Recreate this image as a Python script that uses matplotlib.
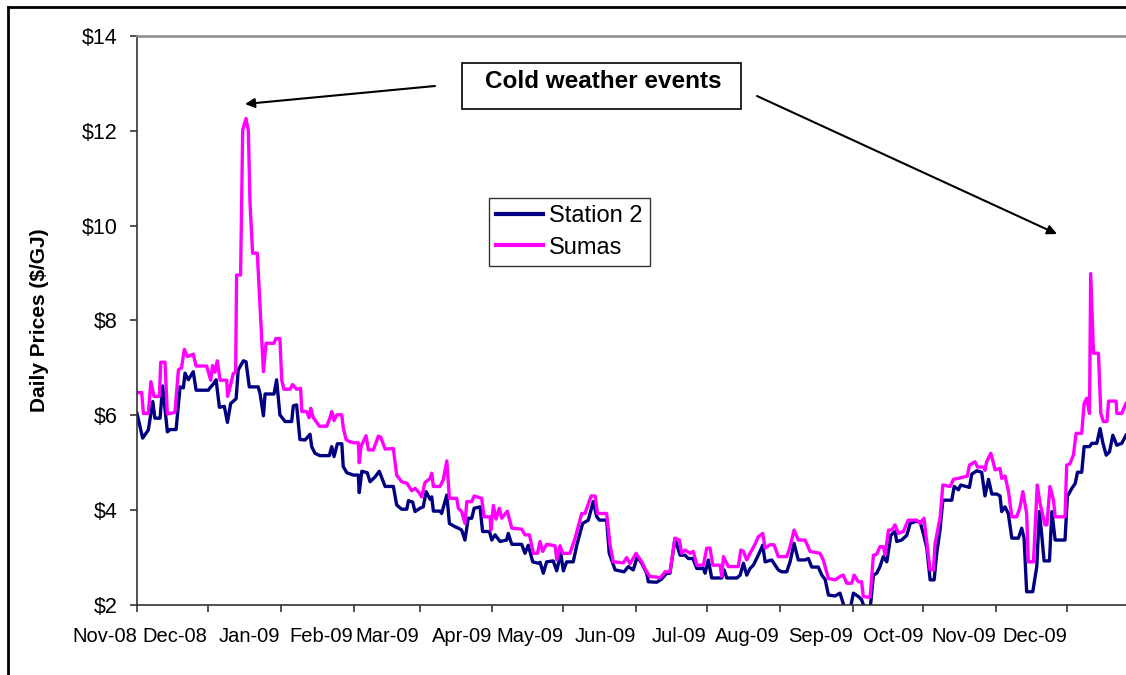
import pandas as pd
from matplotlib import pyplot as plt
from matplotlib.patches import Rectangle, FancyArrowPatch
from matplotlib.lines import Line2D

plt.rcParams['font.family'] = ['Liberation Sans', 'DejaVu Sans']

start = pd.Timestamp('2008-11-01')

stn2_days = [0.0, 2.4, 4.8, 6.7, 7.6, 9.8, 10.9, 12.9, 14.0, 16.6,
             18.3, 19.7, 20.4, 21.8, 23.9, 25.1, 30.3, 31.0, 32.4, 33.6,
             35.0, 37.1, 38.4, 39.8, 42.1, 43.0, 45.2, 46.3, 47.7, 51.5,
             52.3, 53.7, 54.4, 58.2, 59.3, 60.7, 62.9, 65.7, 66.4, 67.8,
             69.2, 71.4, 73.5, 74.2, 75.6, 77.7, 81.7, 82.7, 83.7, 85.1,
             87.0, 87.6, 89.1, 91.9, 94.0, 94.4, 95.5, 97.8, 99.0, 101.1,
             102.9, 105.4, 108.9, 110.3, 112.4, 114.6, 115.3, 117.1, 118.1, 120.2,
             121.6, 122.8, 124.5,
             125.2, 125.9, 128.7, 129.4, 131.6, 132.7, 135.1, 136.5, 137.9, 139.3,
             140.7, 142.2, 143.2, 145.7, 146.8, 149.7, 150.7, 152.1, 154.2, 157.0,
             157.7, 159.2, 163.4, 164.8, 166.2, 168.1, 170.5, 171.2, 172.6, 174.0,
             176.8, 178.3, 180.0, 181.1, 182.5, 185.3, 186.8, 189.3, 191.7, 193.8,
             195.3, 196.4, 199.5, 200.6, 203.1, 206.9, 208.7, 210.8, 212.5, 214.4,
             216.5, 217.2, 220.8, 222.9, 225.0, 226.4,
             228.5, 230.7, 232.8, 234.2, 236.1, 237.8, 240.6, 241.3, 242.7, 244.1,
             248.4, 249.4, 250.5, 254.8, 256.2, 257.6, 259.0, 260.4, 261.8, 263.9,
             265.8, 266.8, 269.6, 272.4, 273.9, 276.0, 277.4, 279.1, 280.9, 283.8,
             285.2, 286.6, 289.4, 290.9, 292.3, 293.7, 296.5, 298.6, 300.8, 302.9,
             304.3, 306.4, 307.8, 309.3, 311.4, 312.8, 314.2, 315.6, 317.0, 318.5,
             320.2, 322.0, 322.7, 324.8, 327.0, 328.4, 330.5, 332.6, 334.0, 335.5,
             336.9, 338.6, 339.7, 341.1,
             342.3, 346.1, 347.1, 348.9, 349.9, 353.6, 354.6, 356.7, 358.8, 360.2,
             361.7, 363.1, 365.2, 366.6, 367.3, 368.7, 370.1, 371.6, 374.4, 375.8,
             376.8, 377.9, 380.5, 382.2, 383.3, 384.3, 385.3, 387.6, 388.6, 390.0,
             394.2, 395.2, 397.1, 398.5, 399.5, 401.3, 402.3, 404.6, 405.6, 407.7,
             409.1, 410.3, 411.7, 413.1, 414.5, 416.2, 418.3, 420.1]
stn2_price = [6.04, 5.52, 5.69, 6.29, 5.94, 5.94, 6.62, 5.65, 5.70, 5.70,
              6.60, 6.58, 6.89, 6.75, 6.92, 6.53, 6.53, 6.58, 6.66, 6.75,
              6.17, 6.19, 5.85, 6.25, 6.35, 6.96, 7.15, 7.13, 6.60, 6.60,
              6.45, 5.99, 6.45, 6.45, 6.75, 6.01, 5.87, 5.87, 6.20, 6.22,
              5.49, 5.48, 5.60, 5.34, 5.20, 5.15, 5.15, 5.34, 5.13, 5.40,
              5.40, 4.92, 4.79, 4.74, 4.74, 4.37, 4.82, 4.79, 4.60, 4.70,
              4.82, 4.50, 4.50, 4.11, 4.02, 4.02, 4.20, 4.17, 3.97, 4.04,
              4.07, 4.39, 4.23,
              4.28, 3.98, 3.98, 3.93, 4.32, 3.72, 3.65, 3.62, 3.58, 3.37,
              3.83, 3.83, 4.04, 4.07, 3.55, 3.55, 3.37, 3.48, 3.34, 3.37,
              3.51, 3.28, 3.28, 3.09, 3.26, 2.91, 2.88, 2.90, 2.67, 2.91,
              2.93, 2.72, 3.09, 2.72, 2.91, 2.91, 3.26, 3.72, 3.79, 4.18,
              3.86, 3.79, 3.79, 3.09, 2.74, 2.70, 2.81, 2.74, 3.02, 2.88,
              2.67, 2.49, 2.48, 2.55, 2.67, 2.67,
              3.40, 3.05, 3.05, 2.98, 2.98, 2.77, 2.77, 2.67, 2.95, 2.57,
              2.57, 2.74, 2.57, 2.57, 2.63, 2.88, 2.63, 2.77, 2.84, 3.05,
              3.26, 2.91, 2.95, 2.74, 2.70, 2.70, 2.91, 3.30, 2.95, 2.95,
              2.98, 2.80, 2.80, 2.63, 2.54, 2.21, 2.19, 2.25, 1.90, 1.90,
              2.25, 2.18, 2.11, 1.90, 1.90, 2.63, 2.67, 2.81, 3.02, 2.91,
              3.47, 3.55, 3.34, 3.37, 3.47, 3.72, 3.76, 3.76, 3.51, 3.20,
              2.53, 2.53, 3.09, 3.58,
              4.21, 4.21, 4.50, 4.43, 4.53, 4.48, 4.76, 4.83, 4.80, 4.30,
              4.65, 4.34, 4.34, 4.30, 3.97, 4.07, 3.93, 3.41, 3.41, 3.62,
              3.41, 2.28, 2.28, 2.81, 3.97, 3.48, 2.93, 2.93, 3.97, 3.37,
              3.37, 4.29, 4.46, 4.56, 4.80, 4.80, 5.34, 5.34, 5.41, 5.41,
              5.72, 5.41, 5.16, 5.23, 5.58, 5.37, 5.41, 5.58]

sumas_days = [0.0, 2.0, 2.7, 4.8, 5.9, 7.2, 9.5, 10.1, 11.9, 12.9,
              16.1, 17.6, 18.9, 20.1, 21.4, 23.9, 25.1, 29.6, 31.3, 32.1,
              33.1, 34.1, 35.3, 38.1, 38.5, 39.8, 40.9, 41.9, 42.3, 44.0,
              44.9, 46.3, 47.3, 48.0, 49.1, 51.1, 53.7, 54.8, 58.2,
              59.0, 60.7, 61.5, 62.4, 65.0, 66.1, 67.8, 69.5, 70.0, 72.1,
              73.1, 73.8, 74.9, 77.5, 80.6, 82.0, 82.7, 83.7, 84.8, 87.0,
              87.6, 88.8, 90.5, 92.6, 94.0, 94.4, 95.2, 97.3, 98.3, 100.4,
              102.5, 103.5, 105.4, 108.9, 110.3, 112.4, 114.6, 116.7, 118.1, 119.5,
              120.9, 122.3, 124.5,
              125.2, 125.9, 128.7, 130.1, 131.6, 132.7, 135.8, 136.5, 137.9, 139.3,
              140.1, 142.2, 143.2, 146.4, 147.4, 150.0, 150.3, 151.4, 152.5, 153.9,
              154.9, 157.3, 159.2, 163.4, 164.8, 166.7, 168.4, 170.1, 171.2, 172.3,
              174.0, 177.6, 178.3, 179.7, 180.8, 183.9, 186.1, 188.9, 190.3, 192.9,
              194.6, 195.6, 199.5, 200.9, 202.3, 206.6, 208.0, 209.4, 212.0, 214.4,
              216.5, 217.9, 220.8, 222.2, 224.3, 226.4,
              228.5, 230.4, 231.4, 232.8, 234.9, 236.3, 237.8, 240.6, 242.0, 243.4,
              244.6, 247.7, 248.4, 249.1, 250.2, 251.2, 255.4, 256.5, 257.6, 259.0,
              260.4, 262.5, 263.9, 265.8, 266.8, 268.9, 270.6, 272.4, 276.0, 277.4,
              279.1, 280.9, 283.8, 285.9, 290.1, 291.5, 293.7, 296.5, 298.6, 300.0,
              301.5, 303.6, 304.6, 306.4, 307.8, 308.5, 311.4, 312.8, 314.2, 315.6,
              317.0, 317.8, 319.2, 320.6, 322.0, 323.4, 325.5, 327.6, 331.2, 332.6,
              334.3, 335.7, 336.9, 338.3, 339.0, 341.1,
              342.3, 345.4, 346.8, 349.6, 352.7, 353.6, 356.0, 357.0, 359.5, 360.2,
              360.9, 362.7, 364.5, 366.6, 367.3, 368.7, 370.1, 371.6, 373.7, 375.1,
              376.3, 377.9, 378.6, 380.8, 382.4, 383.6, 385.7, 386.5, 387.8, 389.3,
              390.0, 394.2, 394.9, 396.3, 397.8, 398.9, 401.3, 402.3, 403.4, 404.6,
              405.1, 406.3, 408.4, 409.4, 410.5, 412.0, 412.7, 415.9, 416.2, 418.3,
              420.1]
sumas_price = [6.48, 6.48, 6.04, 6.04, 6.71, 6.40, 6.40, 7.12, 7.12, 6.03,
               6.06, 6.96, 7.00, 7.39, 7.24, 7.29, 7.04, 7.04, 6.74, 7.05,
               6.91, 7.15, 6.74, 6.74, 6.40, 6.65, 6.88, 6.91, 8.96, 8.96,
               12.02, 12.26, 12.00, 10.48, 9.42, 9.42, 6.92, 7.52, 7.52,
               7.62, 7.62, 6.74, 6.55, 6.55, 6.65, 6.55, 6.57, 6.08, 6.08,
               5.95, 6.15, 5.95, 5.77, 5.77, 5.95, 6.08, 5.89, 6.01, 6.01,
               5.74, 5.49, 5.44, 5.42, 5.42, 5.00, 5.35, 5.57, 5.27, 5.27,
               5.56, 5.54, 5.29, 5.30, 4.74, 4.60, 4.57, 4.41, 4.46, 4.39,
               4.28, 4.58, 4.67,
               4.78, 4.50, 4.50, 4.64, 5.04, 4.25, 4.25, 4.04, 3.97, 3.72,
               4.18, 4.18, 4.30, 4.25, 3.86, 3.86, 3.58, 4.10, 3.81, 4.04,
               3.83, 3.98, 3.62, 3.60, 3.48, 3.48, 3.09, 3.09, 3.34, 3.13,
               3.28, 3.25, 2.95, 3.25, 3.09, 3.09, 3.41, 3.93, 3.93, 4.30,
               4.30, 3.93, 3.93, 3.28, 2.91, 2.89, 3.00, 2.87, 3.09, 2.91,
               2.70, 2.60, 2.59, 2.57, 2.70, 2.70,
               3.41, 3.37, 3.09, 3.16, 3.09, 3.13, 2.84, 2.84, 3.20, 3.20,
               2.84, 2.84, 2.60, 3.02, 2.91, 2.81, 2.81, 3.16, 3.13, 2.95,
               3.09, 3.28, 3.44, 3.51, 3.20, 3.27, 3.27, 3.02, 3.02, 3.23,
               3.58, 3.37, 3.37, 3.13, 3.09, 2.95, 2.56, 2.53, 2.60, 2.63,
               2.46, 2.46, 2.63, 2.49, 2.49, 2.18, 2.16, 3.05, 3.07, 3.23,
               3.23, 3.06, 3.58, 3.58, 3.69, 3.51, 3.55, 3.79, 3.79, 3.72,
               3.83, 3.23, 2.74, 2.74, 3.30, 3.83,
               4.53, 4.50, 4.65, 4.68, 4.72, 4.95, 5.02, 4.91, 4.91, 4.84,
               5.02, 5.20, 4.85, 4.88, 4.67, 4.72, 4.42, 3.86, 3.86, 4.07,
               4.39, 3.93, 2.91, 2.91, 4.53, 4.14, 3.69, 3.69, 4.50, 4.21,
               3.86, 3.86, 4.95, 4.98, 5.17, 5.62, 5.62, 6.25, 6.36, 6.04,
               8.99, 7.31, 7.31, 6.04, 5.87, 5.87, 6.30, 6.30, 6.04, 6.04,
               6.25]

month_starts = pd.date_range('2008-11-01', '2009-12-01', freq='MS')
month_labels = [d.strftime('%b-%y') for d in month_starts]
price_ticks = [2, 4, 6, 8, 10, 12, 14]
price_labels = ['$%d' % p for p in price_ticks]

W, H = 1126, 675
fig = plt.figure(figsize=(W / 100, H / 100), dpi=100)
ax = fig.add_axes([137 / W, 1 - 605 / H, 1 - 137 / W, 569 / H])

stn2_x = start + pd.to_timedelta(stn2_days, unit='D')
sumas_x = start + pd.to_timedelta(sumas_days, unit='D')
ax.plot(stn2_x, stn2_price, color='#000080', lw=2.4, label='Station 2')
ax.plot(sumas_x, sumas_price, color='#FF00FF', lw=2.4, label='Sumas')

ax.set_xlim(start, start + pd.Timedelta(days=420.1))
ax.set_ylim(2, 14)
ax.set_xticks(month_starts)
ax.set_xticklabels(month_labels, ha='right', fontsize=14.5)
ax.set_yticks(price_ticks)
ax.set_yticklabels(price_labels, fontsize=15.5)
ax.tick_params(axis='x', direction='out', length=5, width=1.2, pad=11, color='#333333')
ax.tick_params(axis='y', direction='out', length=5, width=1.2, pad=9, color='#333333')

ax.spines['right'].set_visible(False)
ax.spines['top'].set_color('#8c8c8c')
ax.spines['top'].set_linewidth(1.8)
for s in ['left', 'bottom']:
    ax.spines[s].set_color('#333333')
    ax.spines[s].set_linewidth(1.2)

fig.text(40 / W, 1 - 320 / H, 'Daily Prices ($/GJ)', rotation=90, fontsize=15,
         fontweight='bold', ha='center', va='center')

leg = ax.legend(loc='upper left', bbox_to_anchor=(0.356, 0.715), fontsize=17,
                frameon=True, fancybox=False, edgecolor='black', borderaxespad=0,
                handlelength=2.0, handletextpad=0.25, labelspacing=0.4,
                borderpad=0.3)
leg.get_frame().set_linewidth(1.0)
for line in leg.get_lines():
    line.set_linewidth(3)

# outer chart frame (only left and top edges are visible in the image)
fig.add_artist(Line2D([8 / W, 8 / W], [0, 1 - 7 / H], transform=fig.transFigure,
                      color='black', lw=2))
fig.add_artist(Line2D([8 / W, 1], [1 - 7 / H, 1 - 7 / H], transform=fig.transFigure,
                      color='black', lw=2))

# annotation box and arrows
fig.add_artist(Rectangle((462 / W, 1 - 109 / H), 279 / W, 46 / H, transform=fig.transFigure,
                         facecolor='white', edgecolor='black', lw=1.2))
fig.text(603 / W, 1 - 88 / H, 'Cold weather events', fontsize=17.5, fontweight='bold',
         ha='center', va='baseline')
for (x0, y0), (x1, y1) in [((435, 86), (245, 104)), ((757, 96), (1057, 234))]:
    fig.add_artist(FancyArrowPatch((x0 / W, 1 - y0 / H), (x1 / W, 1 - y1 / H),
                                   transform=fig.transFigure, arrowstyle='-|>',
                                   mutation_scale=14, color='black', lw=1.5,
                                   shrinkA=0, shrinkB=0))

fig.savefig('out.png', dpi=100)
